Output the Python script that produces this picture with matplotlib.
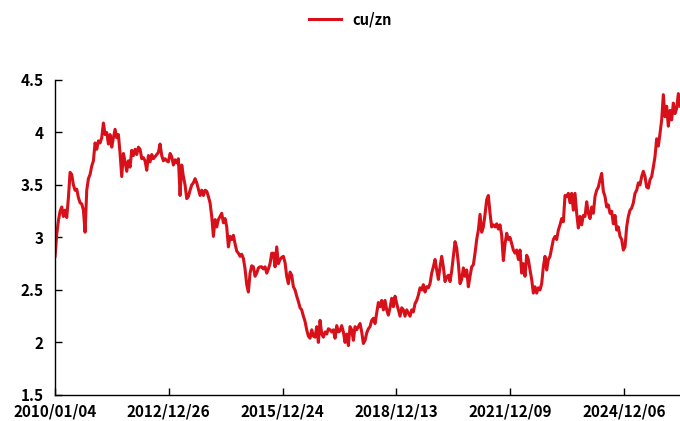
import matplotlib
matplotlib.use("Agg")
import matplotlib.pyplot as plt
import pandas as pd

plt.rcParams['font.family'] = ['Noto Sans CJK SC', 'DejaVu Sans']

seg_2010 = [2.82, 3.03, 3.16, 3.25, 3.29, 3.20, 3.26, 3.19, 3.38, 3.62,
            3.60, 3.50, 3.45, 3.46, 3.38, 3.33, 3.32, 3.26, 3.05, 3.45,
            3.56, 3.60, 3.68, 3.73, 3.90, 3.84, 3.92, 3.90, 3.95, 4.09,
            3.98, 4.00, 3.89, 3.98, 3.86, 3.95, 4.03, 3.95, 3.98, 3.80,
            3.58, 3.80, 3.72, 3.63, 3.73, 3.67, 3.83, 3.78, 3.84, 3.79,
            3.86, 3.84, 3.75, 3.76, 3.73, 3.64, 3.78, 3.72, 3.79, 3.75,
            3.77, 3.79, 3.81, 3.89, 3.78, 3.73]
seg_2013 = [3.75, 3.73, 3.72, 3.80, 3.77, 3.69, 3.74, 3.71, 3.75, 3.40,
            3.69, 3.58, 3.50, 3.37, 3.39, 3.45, 3.50, 3.52, 3.56, 3.52,
            3.46, 3.40, 3.45, 3.40, 3.45, 3.44, 3.39, 3.33, 3.20, 3.01,
            3.17, 3.10, 3.17, 3.20, 3.23, 3.14, 3.18, 3.10, 2.91, 3.01,
            2.98, 3.02, 2.94, 2.87, 2.85, 2.82, 2.84, 2.80, 2.70, 2.55,
            2.48, 2.66, 2.73, 2.72, 2.63, 2.66, 2.71, 2.72, 2.72, 2.70,
            2.72, 2.66, 2.70, 2.75, 2.85, 2.85, 2.72, 2.91, 2.75]
seg_2016 = [2.79, 2.81, 2.82, 2.76, 2.63, 2.56, 2.67, 2.64, 2.53, 2.50,
            2.44, 2.39, 2.33, 2.31, 2.25, 2.20, 2.12, 2.06, 2.04, 2.12,
            2.06, 2.05, 2.15, 2.00, 2.21, 2.08, 2.05, 2.10, 2.08, 2.13,
            2.12, 2.10, 2.12, 2.04, 2.16, 2.10, 2.11, 2.16, 2.10, 2.00,
            2.08, 1.97, 2.15, 2.12, 2.02, 2.15, 2.12, 2.15, 2.18, 2.10,
            1.99, 2.02, 2.09, 2.13, 2.15, 2.21, 2.23, 2.18, 2.28, 2.38,
            2.34, 2.40, 2.31, 2.40, 2.31, 2.26, 2.33, 2.42, 2.34]
seg_2019 = [2.44, 2.37, 2.31, 2.25, 2.33, 2.31, 2.25, 2.31, 2.28, 2.25,
            2.31, 2.29, 2.37, 2.40, 2.45, 2.52, 2.50, 2.55, 2.48, 2.53,
            2.52, 2.56, 2.66, 2.72, 2.79, 2.69, 2.60, 2.72, 2.82, 2.72,
            2.58, 2.62, 2.64, 2.58, 2.68, 2.82, 2.96, 2.90, 2.75, 2.56,
            2.60, 2.71, 2.63, 2.69, 2.53, 2.63, 2.72, 2.74, 2.85, 2.98,
            3.07, 3.22, 3.05, 3.10, 3.22, 3.36, 3.40, 3.23, 3.10, 3.12,
            3.10, 3.13, 3.08, 3.12, 3.02, 2.78, 2.94, 3.04, 2.98]
seg_2022 = [3.00, 2.94, 2.88, 2.85, 2.88, 2.79, 2.88, 2.66, 2.75, 2.63,
            2.83, 2.79, 2.69, 2.60, 2.47, 2.53, 2.47, 2.52, 2.50, 2.56,
            2.72, 2.82, 2.69, 2.79, 2.82, 2.90, 2.98, 3.01, 2.98, 3.07,
            3.12, 3.18, 3.15, 3.40, 3.39, 3.42, 3.33, 3.42, 3.26, 3.42,
            3.23, 3.09, 3.20, 3.12, 3.21, 3.20, 3.34, 3.23, 3.18, 3.29,
            3.23, 3.39, 3.45, 3.48]
seg_2024 = [3.55, 3.61, 3.44, 3.39, 3.29, 3.31, 3.23, 3.25, 3.13, 3.21,
            3.07, 3.10, 3.01, 2.98, 2.88, 2.91, 3.10, 3.20, 3.26, 3.28,
            3.33, 3.42, 3.45, 3.52, 3.50, 3.58, 3.63, 3.58, 3.48, 3.47,
            3.55, 3.58, 3.67, 3.77, 3.94, 3.87, 3.99, 4.12, 4.36, 4.15,
            4.25, 4.06, 4.21, 4.12, 4.28, 4.18, 4.23, 4.37, 4.25]
values = seg_2010 + seg_2013 + seg_2016 + seg_2019 + seg_2022 + seg_2024
dates = pd.date_range('2010-01-04', '2026-05-27', periods=len(values))

tick_labels = ['2010/01/04', '2012/12/26', '2015/12/24',
               '2018/12/13', '2021/12/09', '2024/12/06']
y_ticks = [1.5, 2, 2.5, 3, 3.5, 4, 4.5]

fig = plt.figure(figsize=(6.8, 4.21), dpi=100)
ax = fig.add_axes([0.081, 0.062, 0.919, 0.748])

ax.plot(dates, values, color='#d7101a', linewidth=2.2, label='cu/zn')

ax.set_xlim(dates[0], dates[-1])
ax.set_ylim(1.5, 4.5)
ax.set_xticks(pd.to_datetime(tick_labels, format='%Y/%m/%d'))
ax.set_xticklabels(tick_labels)
ax.set_yticks(y_ticks)
ax.set_yticklabels([f'{v:g}' for v in y_ticks])

for s in ['top', 'right']:
    ax.spines[s].set_visible(False)
for s in ['left', 'bottom']:
    ax.spines[s].set_linewidth(1.0)
ax.tick_params(direction='in', length=5, width=1.0, labelsize=11)
ax.tick_params(axis='x', pad=6)
ax.tick_params(axis='y', pad=8)
for lbl in ax.get_xticklabels() + ax.get_yticklabels():
    lbl.set_fontweight('bold')

fig.legend(loc='upper center', bbox_to_anchor=(0.515, 1.005), frameon=False,
           handlelength=2.2, prop={'weight': 'bold', 'size': 10.5})

fig.savefig('out.png', dpi=100)
